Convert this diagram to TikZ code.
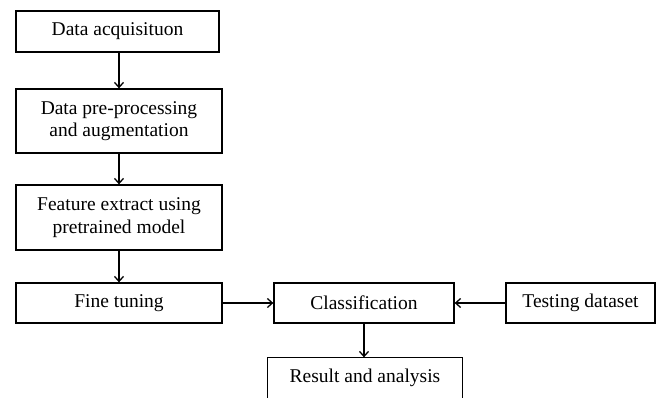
\documentclass[tikz,border=0pt]{standalone}
\usepackage{fontspec}
\setmainfont{Liberation Serif}
\usetikzlibrary{arrows.meta,calc}
\begin{document}
\begin{tikzpicture}[x=1pt,y=-1pt,
  box/.style={draw, line width=1.3pt, inner sep=0pt, align=center, font=\fontsize{19.5}{22.5}\selectfont},
  conn/.style={line width=1.3pt, -{Straight Barb[length=5pt,width=9pt,line width=1.3pt]}}]
\useasboundingbox (0,0) rectangle (656,397);
\node[box, minimum width=203pt, minimum height=41pt] (b1) at (117.5,31.5) {Data acquisituon};
\node[box, minimum width=206pt, minimum height=64pt] (b2) at (119,121) {Data pre-processing\\and augmentation};
\node[box, minimum width=206pt, minimum height=65pt] (b3) at (119,217.5) {Feature extract using\\pretrained model};
\node[box, minimum width=206pt, minimum height=40pt] (b4) at (119,303) {Fine tuning};
\node[box, minimum width=180pt, minimum height=40pt] (cl) at (364,303) {Classification};
\node[box, minimum width=149pt, minimum height=40pt] (td) at (580.5,303) {Testing dataset};
\node[box, draw=none, minimum width=194pt, minimum height=40pt] (rs) at (365,378) {Result and analysis};
\draw[line width=1.3pt] (rs.south west) |- (rs.north east) -- (rs.south east);
\draw[conn] (b2.north |- b1.south) -- (b2.north);
\draw[conn] (b2.south) -- (b3.north);
\draw[conn] (b3.south) -- (b4.north);
\draw[conn] (b4.east) -- (cl.west);
\draw[conn] (td.west) -- (cl.east);
\draw[conn] (cl.south) -- (rs.north -| cl.south);
\end{tikzpicture}
\end{document}
